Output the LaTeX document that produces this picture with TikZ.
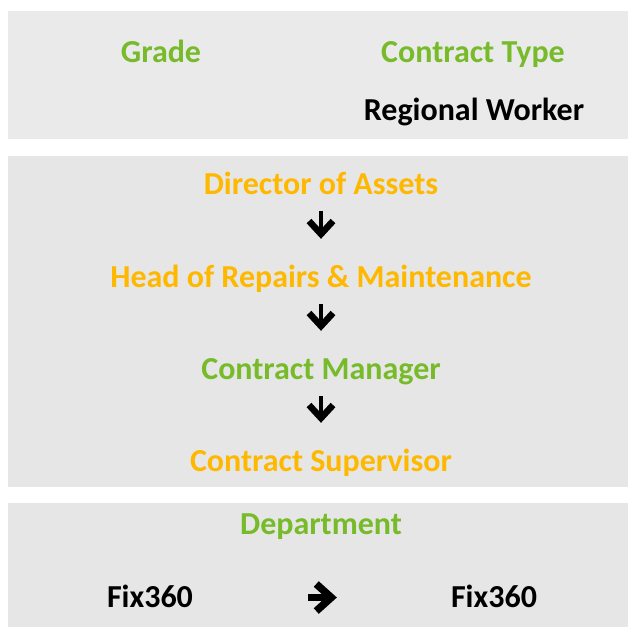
\documentclass[tikz,border=0pt]{standalone}
\usepackage{fontspec}
\setmainfont{Carlito}
\usetikzlibrary{arrows.meta}
\definecolor{lgreen}{HTML}{77BB2A}
\definecolor{lorange}{HTML}{FFB800}
\definecolor{panelA}{HTML}{EAEAEA}
\definecolor{panelB}{HTML}{E6E6E6}
\begin{document}
\begin{tikzpicture}[x=1pt, y=-1pt, line join = round]
	\pgfmathsetmacro\lft{8}
	\pgfmathsetmacro\rgt{628}
	\pgfmathsetmacro\mid{321}
	\tikzset{lbl/.style={anchor=base, inner sep=0pt, text height=20pt, text depth=7pt, font=\bfseries\fontsize{32}{38}\selectfont},
		grn/.style={lbl, text=lgreen},
		org/.style={lbl, text=lorange},
		blk/.style={lbl, text=black},
		dnarrow/.style={line width=4.5pt, -{Straight Barb[length=13pt,width=24pt,line width=6.5pt]}, shorten <=10pt, shorten >=28pt},
		rtarrow/.style={line width=7pt, -{Straight Barb[length=15pt,width=27pt,line width=7.5pt]}, shorten <=115pt, shorten >=114pt}}
	\useasboundingbox (0,0) rectangle (628,627);
	% panels
	\fill[panelA] (\lft,11) rectangle (\rgt,139);
	\fill[panelB] (\lft,156) rectangle (\rgt,487);
	\fill[panelB] (\lft,503) rectangle (\rgt,627);
	% top panel
	\node[grn] (grade) at (161,62) {Grade};
	\node[grn] (ctype) at (473,62) {Contract Type};
	\node[blk] (worker) at (474,120) {Regional Worker};
	% chain
	\node[org] (dir) at (\mid,194) {Director of Assets};
	\node[org] (head) at (\mid,287) {Head of Repairs \& Maintenance};
	\node[grn] (mgr) at (\mid,379) {Contract Manager};
	\node[org] (sup) at (\mid,471) {Contract Supervisor};
	\draw[dnarrow] (dir) -- (head);
	\draw[dnarrow] (head) -- (mgr);
	\draw[dnarrow] (mgr) -- (sup);
	% department
	\node[grn] (dept) at (\mid,534) {Department};
	\node[blk] (fixA) at (150,607) {Fix360};
	\node[blk] (fixB) at (494,607) {Fix360};
	\draw[rtarrow] ([yshift=3pt]fixA.east) -- ([yshift=3pt]fixB.west);
\end{tikzpicture}
\end{document}
